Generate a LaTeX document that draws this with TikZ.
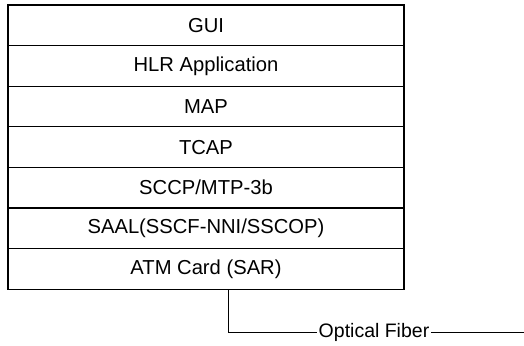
\documentclass[tikz,border=0pt]{standalone}
\usepackage{fontspec}
\setmainfont{Liberation Sans}
\begin{document}
\begin{tikzpicture}[x=1pt,y=-1pt,
  layer/.style={draw=black,line width=1.1pt,minimum width=396pt,minimum height=40.6pt,inner sep=0pt,font=\fontsize{20.2}{23}\selectfont,anchor=center},
  conn/.style={draw=black,line width=0.9pt}]
\useasboundingbox (0,0) rectangle (524,345);
\node[layer] (gui)  at (206,25.3)  {GUI};
\node[layer] (hlr)  at (206,65.9)  {HLR Application};
\node[layer] (map)  at (206,106.5) {MAP};
\node[layer] (tcap) at (206,147.1) {TCAP};
\node[layer] (sccp) at (206,187.7) {SCCP/MTP-3b};
\node[layer] (saal) at (206,228.3) {SAAL(SSCF-NNI/SSCOP)};
\node[layer] (atm)  at (206,268.9) {ATM Card (SAR)};
\node[font=\fontsize{19.5}{22}\selectfont,inner sep=1.5pt] (fiber) at (374,332) {Optical Fiber};
\coordinate (drop) at (228,332);
\coordinate (end) at (524,332);
\draw[conn] (atm.south -| drop) -- (drop) -- (fiber.west);
\draw[conn] (fiber.east) -- (end);
\end{tikzpicture}
\end{document}
